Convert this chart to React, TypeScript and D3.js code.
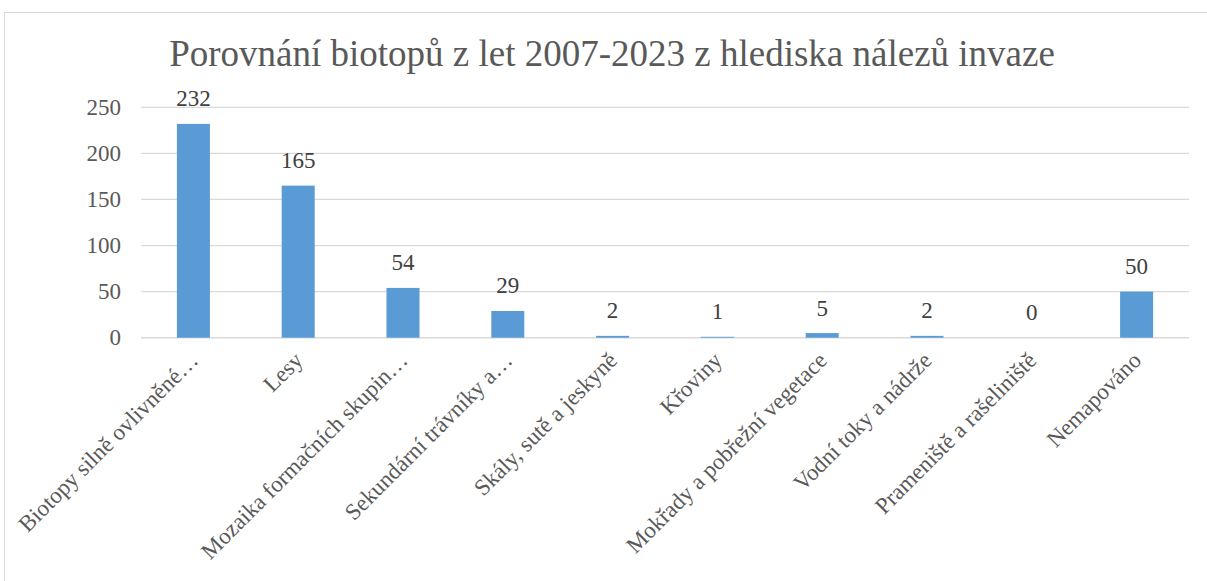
import React from "react";
import * as d3 from "d3";

const categories: string[] = [
  "Biotopy silně ovlivněné…",
  "Lesy",
  "Mozaika formačních skupin…",
  "Sekundární trávníky a…",
  "Skály, sutě a jeskyně",
  "Křoviny",
  "Mokřady a pobřežní vegetace",
  "Vodní toky a nádrže",
  "Prameniště a rašeliniště",
  "Nemapováno",
];
const values: number[] = [232, 165, 54, 29, 2, 1, 5, 2, 0, 50];
const yTicks: number[] = [0, 50, 100, 150, 200, 250];
const title = "Porovnání biotopů z let 2007-2023 z hlediska nálezů invaze";

const W = 1207;
const H = 581;
const left = 141;
const right = 1189;
const top = 107.3;
const bottom = 337.7;

export default function App() {
  const x = d3
    .scaleBand<string>()
    .domain(categories)
    .range([left, right])
    .paddingInner(0.685)
    .paddingOuter(0.3425);
  const y = d3.scaleLinear().domain([0, 250]).range([bottom, top]);
  const fs = { fontFamily: "'Liberation Serif', 'Times New Roman', serif" };

  return (
    <svg
      width={W}
      height={H}
      style={{ position: "absolute", left: 0, top: 0, background: "#fff" }}
    >
      <rect x={4.5} y={12.5} width={W + 10} height={H + 10} fill="#fff" stroke="#D9D9D9" strokeWidth={1} />
      <text x={612} y={66} textAnchor="middle" fontSize={37} fill="#595959" style={fs}>
        {title}
      </text>
      {yTicks.map((t) => (
        <g key={t}>
          <line x1={left} x2={right} y1={y(t)} y2={y(t)} stroke="#D9D9D9" strokeWidth={t === 0 ? 1.5 : 1.2} />
          <text x={121} y={y(t)} dy="0.33em" textAnchor="end" fontSize={23} fill="#595959" style={fs}>
            {t}
          </text>
        </g>
      ))}
      {categories.map((c, i) => {
        const cx = (x(c) as number) + x.bandwidth() / 2;
        return (
          <g key={c}>
            <rect
              x={x(c) as number}
              y={y(values[i])}
              width={x.bandwidth()}
              height={bottom - y(values[i])}
              fill="#5B9BD5"
            />
            <text x={cx} y={y(values[i]) - 17.5} textAnchor="middle" fontSize={23} fill="#404040" style={fs}>
              {values[i]}
            </text>
            <text
              transform={`translate(${cx + 6},${bottom + 24}) rotate(-45)`}
              textAnchor="end"
              fontSize={23}
              fill="#595959"
              style={fs}
            >
              {c}
            </text>
          </g>
        );
      })}
    </svg>
  );
}
